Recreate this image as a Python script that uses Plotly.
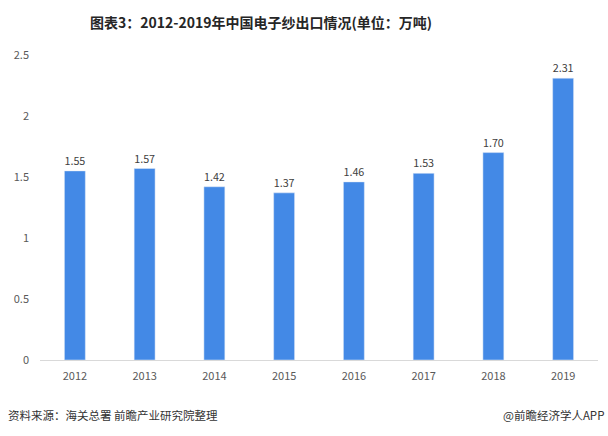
import plotly.graph_objects as go

years = ["2012", "2013", "2014", "2015", "2016", "2017", "2018", "2019"]
values = [1.55, 1.57, 1.42, 1.37, 1.46, 1.53, 1.70, 2.31]
labels = ["1.55", "1.57", "1.42", "1.37", "1.46", "1.53", "1.70", "2.31"]
y_ticks = [0, 0.5, 1, 1.5, 2, 2.5]
y_tick_text = ["0", "0.5", "1", "1.5", "2", "2.5"]

font_family = "Microsoft YaHei, Noto Sans CJK SC, sans-serif"

W, H = 608, 436
L, R, T, B = 40, 10, 55, 76
PW, PH = W - L - R, H - T - B

fig = go.Figure()
fig.add_trace(go.Bar(
    x=years, y=values, text=labels, textposition="outside",
    textfont=dict(size=11, color="#404040", family=font_family),
    marker=dict(color="#4389E6"), cliponaxis=False,
))

fig.update_layout(
    width=W, height=H,
    margin=dict(l=L, r=R, t=T, b=B),
    paper_bgcolor="white", plot_bgcolor="white",
    bargap=0.7, showlegend=False,
    font=dict(family=font_family, size=11, color="#595959"),
    xaxis=dict(showline=True, linecolor="#D9D9D9", linewidth=1, ticks="",
               ticklabelstandoff=6,
               tickfont=dict(size=11, color="#595959"), showgrid=False),
    yaxis=dict(range=[0, 2.5], tickvals=y_ticks, ticktext=y_tick_text,
               showgrid=False, zeroline=False, showline=False, ticks="",
               ticklabelstandoff=10,
               tickfont=dict(size=11, color="#595959")),
)

def px_x(x):
    return (x - L) / PW

def px_y(y):
    return (H - B - y) / PH

fig.add_annotation(text="<b>图表3：2012-2019年中国电子纱出口情况(单位：万吨)</b>",
                   xref="paper", yref="paper", x=px_x(261), y=px_y(22),
                   xanchor="center", yanchor="middle", showarrow=False,
                   font=dict(size=14, color="#262626", family=font_family))
fig.add_annotation(text="资料来源：海关总署 前瞻产业研究院整理", xref="paper", yref="paper",
                   x=px_x(6), y=px_y(415), xanchor="left", yanchor="middle",
                   showarrow=False, font=dict(size=11.5, color="#333333"))
fig.add_annotation(text="@前瞻经济学人APP", xref="paper", yref="paper",
                   x=px_x(606), y=px_y(415), xanchor="right", yanchor="middle",
                   showarrow=False, font=dict(size=11.5, color="#333333"))

fig.write_html("out.html", config={"displayModeBar": False},
               post_script="document.body.style.margin='0px';")
